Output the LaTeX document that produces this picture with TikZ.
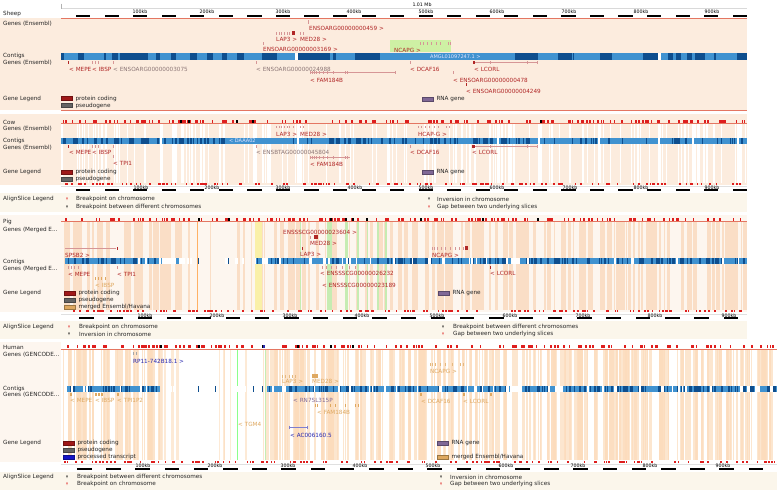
\documentclass[tikz,border=0pt]{standalone}
\usepackage{fontspec}
\setmainfont{DejaVu Sans}
\usetikzlibrary{positioning}

\definecolor{peach}{RGB}{252,236,222}
\definecolor{peachpale}{RGB}{253,246,239}
\definecolor{peachdeep}{RGB}{250,222,198}
\definecolor{humpeach}{RGB}{252,220,188}
\definecolor{legbg}{RGB}{251,246,235}
\definecolor{redline}{RGB}{228,118,98}
\definecolor{markred}{RGB}{222,30,30}
\definecolor{genered}{RGB}{176,38,38}
\definecolor{genegray}{RGB}{140,118,118}
\definecolor{havana}{RGB}{222,168,96}
\definecolor{ptblue}{RGB}{40,40,175}
\definecolor{rnapurple}{RGB}{128,104,150}
\definecolor{exonpink}{RGB}{214,150,150}
\definecolor{ctgdark}{RGB}{14,78,142}
\definecolor{ctglight}{RGB}{64,146,208}
\definecolor{ncapgreen}{RGB}{206,240,164}
\definecolor{alngreen}{RGB}{198,236,178}
\definecolor{alnyellow}{RGB}{250,240,168}
\definecolor{legcoding}{RGB}{160,24,24}
\definecolor{legpseudo}{RGB}{100,100,100}
\definecolor{legprocessed}{RGB}{20,20,200}

\begin{document}
\begin{tikzpicture}[
        x=1pt, y=-1pt,
        font=\fontsize{5.7}{6.2}\selectfont,
        every node/.style={inner sep=0pt, anchor=west},
        track_label/.style={text=black!85},
        gene_fwd/.style={text=genered},
        gene_grey/.style={text=genegray},
        gene_hav/.style={text=havana},
        gene_pt/.style={text=ptblue},
        contig_label/.style={text=white!90!blue, font=\fontsize{5}{5.5}\selectfont},
        kb_label/.style={anchor=center, font=\fontsize{4.7}{5}\selectfont},
        legend_text/.style={text=black!85},
        legend_box/.style={minimum width=11pt, minimum height=4pt, fill=#1, draw=#1!70!black, line width=0.3pt},
        exon/.style={fill=exonpink},
        edge_red/.style={draw=redline, line width=0.8pt},
        mark_red/.style={fill=markred},
        mark_black/.style={fill=black}
    ]
        \useasboundingbox (0,0) rectangle (778,490);
        \fill[white] (0,0) rectangle (778,490);
        \pgfmathsetseed{4242}

        % ================= Sheep =================
        \fill[peach] (0,18) rectangle (747,110);
        \draw[black!15] (61,8.5) -- (747,8.5);
        \draw[black!30] (61,3.5) -- (61,9);
        \node (sheep_span) [kb_label] at (422,5.2) {1.01 Mb};
        \foreach \kx/\kb in {140/100, 207/200, 283/300, 354/400, 426/500, 497/600, 569/700, 641/800, 712/900}
            \node (sheep_kb\kb) [kb_label] at (\kx,12.2) {\kb kb};
        \foreach \k in {0,...,23}
            \fill (76+28.55*\k,14.8) rectangle ++(14.2,2);
        \draw[edge_red] (61,18) -- (747,18);
        \draw[edge_red] (61,110) -- (747,110);

        \node (sheep_name) [track_label] at (3,14) {Sheep};
        \node (sheep_genes) [track_label] at (3,24) {Genes (Ensembl)};
        \node (sheep_contigs) [track_label] at (3,56) {Contigs};
        \node (sheep_genes_rev) [track_label] at (3,63) {Genes (Ensembl)};
        \node (sheep_legend) [track_label] at (3,99) {Gene Legend};

        % forward strand genes
        \fill[ncapgreen] (390,40) rectangle (451,52);
        \fill[exon] (308,20) rectangle ++(0.7,4);
        \node (s_ens459) [gene_fwd] at (309,28) {ENSOARG00000000459 >};
        \foreach \ex in {276,279,281,284,287,289,300,303}
            \fill[exon] (\ex,31.5) rectangle ++(1,3);
        \fill[genered] (292,31) rectangle ++(2.5,4);
        \node (s_lap3) [gene_fwd] at (276,39) {LAP3 >};
        \node (s_med28) [gene_fwd] at (300,39) {MED28 >};
        \fill[exon] (263,42) rectangle ++(0.7,3);
        \node (s_ens3169) [gene_fwd] at (263,49) {ENSOARG00000003169 >};
        \foreach \ex in {420,423,427,431,436,440,448,450}
            \fill[exon] (\ex,42) rectangle ++(0.8,3);
        \node (s_ncapg) [gene_fwd] at (394,50) {NCAPG >};

        % contigs
        \fill[ctglight] (61,53) rectangle (747,60);
        \foreach \ca/\cb in {61/64, 78/84, 104/106, 112/118, 120/148, 156/160, 171/176, 190/197, 207/213, 222/227, 237/244, 262/277, 298/330, 333/336, 355/380, 515/538, 558/572, 573/574, 600/612, 643/658, 668/673, 676/681, 687/692, 695/705, 714/716, 737/747}
            \fill[ctgdark] (\ca,53) rectangle (\cb,60);
        \fill[white] (295,53) rectangle (298,60);
        \fill[white] (658,53) rectangle (661,60);
        \node (s_amgl) [contig_label] at (430,56.5) {AMGL01097247.1 >};

        % reverse strand genes
        \fill[genered] (67.5,61) rectangle ++(1.5,3);
        \foreach \ex in {92,95,98,113,256,410,490,527,537}
            \fill[exon] (\ex,61) rectangle ++(0.7,3);
        \draw[exonpink, line width=0.3pt] (473,62.5) -- (537,62.5);
        \fill[genered] (472.5,61) rectangle ++(2,3);
        \node (s_mepe) [gene_fwd] at (69,69) {< MEPE};
        \node (s_ibsp) [gene_fwd] at (92,69) {< IBSP};
        \node (s_ens3075) [gene_grey] at (113,69) {< ENSOARG00000003075};
        \node (s_ens24988) [gene_grey] at (256,69) {< ENSOARG00000024988};
        \node (s_dcaf16) [gene_fwd] at (410,69) {< DCAF16};
        \node (s_lcorl) [gene_fwd] at (474,69) {< LCORL};
        \draw[exonpink, line width=0.3pt] (310,72.5) -- (395,72.5);
        \foreach \ex in {310,312,314,316,319,323,327,333,345,347,395,453}
            \fill[exon] (\ex,71) rectangle ++(0.8,3);
        \node (s_fam184b) [gene_fwd] at (310,80) {< FAM184B};
        \node (s_ens478) [gene_fwd] at (453,80) {< ENSOARG00000000478};
        \fill[genered] (466,83) rectangle ++(1.2,3);
        \node (s_ens4249) [gene_fwd] at (466,91) {< ENSOARG00000004249};

        % legend
        \node (s_pc_box) [legend_box=legcoding] at (61,98.5) {};
        \node (s_pc) [legend_text, right=3pt of s_pc_box] {protein coding};
        \node (s_ps_box) [legend_box=legpseudo] at (61,105.5) {};
        \node (s_ps) [legend_text, right=3pt of s_ps_box] {pseudogene};
        \node (s_rna_box) [legend_box=rnapurple] at (422,99) {};
        \node (s_rna) [legend_text, right=3pt of s_rna_box] {RNA gene};

        % ================= Cow =================
        \fill[peach] (0,114) rectangle (747,185);
        \foreach \i in {1,...,150}{
            \pgfmathsetmacro\sx{61+685*rnd}
            \pgfmathsetmacro\sw{0.4+1.4*rnd}
            \fill[white] (\sx,124) rectangle ++(\sw,59);
        }
        \foreach \gx in {160,297,497,538,598,658,692,737}
            \fill[white] (\gx,124) rectangle ++(3,59);
        \foreach \i in {1,...,150}{
            \pgfmathsetmacro\mx{61+684*rnd}
            \fill[mark_red] (\mx,119.5) rectangle ++(1.2+0.8*rnd,3);
            \pgfmathsetmacro\mx{61+684*rnd}
            \fill[mark_red] (\mx,182.5) rectangle ++(1.2+0.8*rnd,2.6);
        }
        \foreach \bx in {180,188,236,252,540}
            \fill[mark_black] (\bx,119.5) rectangle ++(1.6,3);
        \draw[edge_red, line width=0.5pt] (61,123) -- (747,123);
        \draw[black!12] (61,186.5) -- (747,186.5);
        \foreach \kx/\kb in {141/100, 212/200, 283/300, 355/400, 426/500, 497/600, 570/700, 641/800, 712/900}
            \node (cow_kb\kb) [kb_label] at (\kx,187.4) {\kb kb};
        \foreach \k in {0,...,23}
            \fill (76+28.55*\k,189.3) rectangle ++(14.2,2);

        \node (cow_name) [track_label] at (3,122) {Cow};
        \node (cow_genes) [track_label] at (3,129) {Genes (Ensembl)};
        \node (cow_contigs) [track_label] at (3,141) {Contigs};
        \node (cow_genes_rev) [track_label] at (3,148) {Genes (Ensembl)};
        \node (cow_legend) [track_label] at (3,172) {Gene Legend};

        % forward strand genes
        \foreach \ex in {276,279,281,284,287,289,293,300,303,418,421,425,429,434,438,446,449}
            \fill[exon] (\ex,125.5) rectangle ++(0.9,2.6);
        \node (c_lap3) [gene_fwd] at (276,134) {LAP3 >};
        \node (c_med28) [gene_fwd] at (300,134) {MED28 >};
        \node (c_hcapg) [gene_fwd] at (418,134) {HCAP-G >};

        % contigs
        \fill[ctglight] (61,137.5) rectangle (747,143.5);
        \foreach \i in {1,...,150}{
            \pgfmathsetmacro\cx{61+684*rnd}
            \fill[ctgdark] (\cx,137.5) rectangle ++(0.5+1.8*rnd,6);
        }
        \fill[ctglight] (227,137.5) rectangle (293,143.5);
        \foreach \gx in {160,297,497,538,598,658,692,737}
            \fill[white] (\gx,137.5) rectangle ++(2,6);
        \node (c_daaa) [contig_label] at (229,140.5) {< DAAA02};

        % reverse strand genes
        \fill[genered] (67.5,144.5) rectangle ++(1.5,3);
        \foreach \ex in {92,95,98,113,256,410,490,527,537}
            \fill[exon] (\ex,144.5) rectangle ++(0.7,3);
        \fill[exon] (113,155) rectangle ++(0.7,3);
        \draw[exonpink, line width=0.3pt] (473,146) -- (537,146);
        \fill[genered] (472,144.5) rectangle ++(2.5,3);
        \node (c_mepe) [gene_fwd] at (69,152.5) {< MEPE};
        \node (c_ibsp) [gene_fwd] at (92,152.5) {< IBSP};
        \node (c_tpi1) [gene_fwd] at (113,163) {< TPI1};
        \node (c_ens45804) [gene_grey] at (256,152.5) {< ENSBTAG00000045804};
        \node (c_dcaf16) [gene_fwd] at (410,152.5) {< DCAF16};
        \node (c_lcorl) [gene_fwd] at (472,152.5) {< LCORL};
        \draw[exonpink, line width=0.3pt] (310,157) -- (350,157);
        \foreach \ex in {310,312,314,316,319,323,327,333,345,347}
            \fill[exon] (\ex,155.5) rectangle ++(0.8,3);
        \node (c_fam184b) [gene_fwd] at (310,164) {< FAM184B};

        % legend
        \node (c_pc_box) [legend_box=legcoding] at (61,172) {};
        \node (c_pc) [legend_text, right=3pt of c_pc_box] {protein coding};
        \node (c_ps_box) [legend_box=legpseudo] at (61,179) {};
        \node (c_ps) [legend_text, right=3pt of c_ps_box] {pseudogene};
        \node (c_rna_box) [legend_box=rnapurple] at (422,172) {};
        \node (c_rna) [legend_text, right=3pt of c_rna_box] {RNA gene};

        % alignslice legend
        \fill[legbg] (0,193) rectangle (747,212);
        \node (cow_aln) [track_label] at (3,199) {AlignSlice Legend};
        \fill[mark_red] (66.2,197.5) -- (67.8,197.5) -- (67,200) -- cycle;
        \node (c_aln1) [legend_text] at (76,199) {Breakpoint on chromosome};
        \fill[mark_black] (66.2,205.5) -- (67.8,205.5) -- (67,208) -- cycle;
        \node (c_aln2) [legend_text] at (76,207) {Breakpoint between different chromosomes};
        \fill[mark_black] (428.2,197.5) -- (429.8,197.5) -- (429,200) -- cycle;
        \node (c_aln3) [legend_text] at (437,199) {Inversion in chromosome};
        \fill[mark_red] (428.2,205.5) -- (429.8,205.5) -- (429,208) -- cycle;
        \node (c_aln4) [legend_text] at (437,207) {Gap between two underlying slices};

        % ================= Pig =================
        \fill[peachpale] (0,215) rectangle (747,312);
        \foreach \i in {1,...,45}{
            \pgfmathsetmacro\sx{61+119*rnd}
            \fill[peachdeep] (\sx,222) rectangle ++(0.8+2.8*rnd,88);
        }
        \foreach \i in {1,...,6}{
            \pgfmathsetmacro\sx{180+75*rnd}
            \fill[peachdeep] (\sx,222) rectangle ++(0.8+1.5*rnd,88);
        }
        \foreach \i in {1,...,170}{
            \pgfmathsetmacro\sx{255+490*rnd}
            \fill[peachdeep] (\sx,222) rectangle ++(0.8+2.8*rnd,88);
        }
        \fill[alnyellow] (255,222) rectangle (262,310);
        \foreach \gx/\gw in {300/1.2, 327/5, 345/3, 357/1.5, 367/1.2, 377/1.5, 385/2}
            \fill[alngreen] (\gx,222) rectangle ++(\gw,88);
        \fill[orange!60] (197,222) rectangle ++(0.8,88);
        \foreach \i in {1,...,150}{
            \pgfmathsetmacro\mx{61+684*rnd}
            \fill[mark_red] (\mx,217.5) rectangle ++(1.2+0.8*rnd,3);
            \pgfmathsetmacro\mx{61+684*rnd}
            \fill[mark_red] (\mx,309.5) rectangle ++(1.2+0.8*rnd,2.6);
        }
        \foreach \bx in {198,228,330,345,352,366,420,482,537}
            \fill[mark_black] (\bx,217.5) rectangle ++(1.6,3);
        \draw[edge_red, line width=0.4pt] (61,221.5) -- (747,221.5);
        \draw[black!12] (61,314.5) -- (747,314.5);
        \foreach \kx/\kb in {145/100, 217/200, 290/300, 362/400, 437/500, 510/600, 583/700, 655/800, 729/900}
            \node (pig_kb\kb) [kb_label] at (\kx,315.6) {\kb kb};
        \foreach \k in {0,...,22}
            \fill (79+29.3*\k,317.3) rectangle ++(14.5,2);

        \node (pig_name) [track_label] at (3,222) {Pig};
        \node (pig_genes) [track_label] at (3,230) {Genes (Merged E...};
        \node (pig_contigs) [track_label] at (3,262) {Contigs};
        \node (pig_genes_rev) [track_label] at (3,269) {Genes (Merged E...};
        \node (pig_legend) [track_label] at (3,293) {Gene Legend};

        % forward strand genes
        \node (p_ens23604) [gene_fwd] at (283,232) {ENSSSCG00000023604 >};
        \fill[exon] (310,235.5) rectangle ++(0.8,3);
        \fill[genered] (314,235) rectangle ++(3.5,4);
        \node (p_med28) [gene_fwd] at (310,243) {MED28 >};
        \fill[genered] (301.5,246.5) rectangle ++(0.8,3);
        \node (p_lap3) [gene_fwd] at (300,254) {LAP3 >};
        \draw[exonpink, line width=0.3pt] (65,248) -- (116,248);
        \fill[genered] (116.5,246.5) rectangle ++(1,3);
        \node (p_spsb2) [gene_fwd] at (65,255) {SPSB2 >};
        \foreach \ex in {432,434,437,441,445,450,455,459,463}
            \fill[exon] (\ex,246.5) rectangle ++(0.9,3);
        \fill[genered] (465,246) rectangle ++(2.5,4);
        \node (p_ncapg) [gene_fwd] at (432,255) {NCAPG >};

        % contigs
        \fill[ctglight] (65,258) rectangle (180,264);
        \fill[ctglight] (255,258) rectangle (747,264);
        \foreach \cx in {198,228}
            \fill[ctgdark] (\cx,258) rectangle ++(1,6);
        \foreach \i in {1,...,35}{
            \pgfmathsetmacro\cx{65+115*rnd}
            \fill[ctgdark] (\cx,258) rectangle ++(0.6+1.4*rnd,6);
        }
        \foreach \i in {1,...,130}{
            \pgfmathsetmacro\cx{255+490*rnd}
            \fill[ctgdark] (\cx,258) rectangle ++(0.6+1.6*rnd,6);
        }
        \foreach \i in {1,...,45}{
            \pgfmathsetmacro\cx{65+680*rnd}
            \fill[white] (\cx,258) rectangle ++(0.8+2*rnd,6);
        }
        \fill[white] (162,258) rectangle (176,264);
        \fill[white] (262,258) rectangle (268,264);
        \fill[white] (514,258) rectangle (520,264);

        % reverse strand genes
        \foreach \ex in {68,71,74,78,117,322,326,331,336,342,349,355,490}
            \fill[exon] (\ex,265.5) rectangle ++(0.8,3);
        \fill[genered] (489.5,265.5) rectangle ++(1.2,3);
        \node (p_mepe) [gene_fwd] at (68,274) {< MEPE};
        \node (p_tpi1) [gene_fwd] at (117,274) {< TPI1};
        \node (p_ens26232) [gene_fwd] at (320,273) {< ENSSSCG00000026232};
        \node (p_lcorl) [gene_fwd] at (490,273) {< LCORL};
        \foreach \ex in {95,98,101,105}
            \fill[havana] (\ex,277) rectangle ++(0.9,3);
        \node (p_ibsp) [gene_hav] at (95,285) {< IBSP};
        \node (p_ens23189) [gene_fwd] at (322,285) {< ENSSSCG00000023189};

        % legend
        \node (p_pc_box) [legend_box=legcoding] at (64,293) {};
        \node (p_pc) [legend_text, right=3pt of p_pc_box] {protein coding};
        \node (p_ps_box) [legend_box=legpseudo] at (64,300) {};
        \node (p_ps) [legend_text, right=3pt of p_ps_box] {pseudogene};
        \node (p_mg_box) [legend_box=havana] at (64,307) {};
        \node (p_mg) [legend_text, right=3pt of p_mg_box] {merged Ensembl/Havana};
        \node (p_rna_box) [legend_box=rnapurple] at (438,293) {};
        \node (p_rna) [legend_text, right=3pt of p_rna_box] {RNA gene};

        % alignslice legend
        \fill[legbg] (0,321) rectangle (747,339);
        \node (pig_aln) [track_label] at (3,327) {AlignSlice Legend};
        \fill[mark_red] (68.2,325.5) -- (69.8,325.5) -- (69,328) -- cycle;
        \node (p_aln1) [legend_text] at (79,327) {Breakpoint on chromosome};
        \fill[mark_black] (68.2,332.5) -- (69.8,332.5) -- (69,335) -- cycle;
        \node (p_aln2) [legend_text] at (79,334) {Inversion in chromosome};
        \fill[mark_black] (442.2,325.5) -- (443.8,325.5) -- (443,328) -- cycle;
        \node (p_aln3) [legend_text] at (453,327) {Breakpoint between different chromosomes};
        \fill[mark_red] (442.2,332.5) -- (443.8,332.5) -- (443,335) -- cycle;
        \node (p_aln4) [legend_text] at (453,334) {Gap between two underlying slices};

        % ================= Human =================
        \fill[peachpale] (0,342) rectangle (61,462);
        \foreach \i in {1,...,50}{
            \pgfmathsetmacro\sx{61+99*rnd}
            \fill[humpeach, opacity=0.75] (\sx,350) rectangle ++(0.8+2.6*rnd,110);
        }
        \foreach \i in {1,...,12}{
            \pgfmathsetmacro\sx{160+100*rnd}
            \fill[humpeach, opacity=0.6] (\sx,350) rectangle ++(0.8+1.6*rnd,110);
        }
        \foreach \i in {1,...,260}{
            \pgfmathsetmacro\sx{260+515*rnd}
            \fill[humpeach, opacity=0.7] (\sx,350) rectangle ++(0.8+2.8*rnd,110);
        }
        \fill[green!45!white] (237,350) rectangle ++(1,110);
        \fill[alngreen] (265,350) rectangle ++(1,110);
        \foreach \i in {1,...,160}{
            \pgfmathsetmacro\mx{61+714*rnd}
            \fill[mark_red] (\mx,345) rectangle ++(1.2+0.8*rnd,3);
            \pgfmathsetmacro\mx{61+714*rnd}
            \fill[mark_red] (\mx,460.5) rectangle ++(1.2+0.8*rnd,2.6);
        }
        \foreach \bx in {160,198,262,297,330,352}
            \fill[mark_black] (\bx,345) rectangle ++(1.6,3);
        \fill[ptblue] (263,345) rectangle ++(1.6,3);
        \draw[edge_red, line width=0.4pt] (61,349) -- (777,349);
        \draw[black!12] (61,464.5) -- (777,464.5);
        \foreach \kx/\kb in {143/100, 215/200, 288/300, 360/400, 433/500, 506/600, 578/700, 650/800, 723/900}
            \node (human_kb\kb) [kb_label] at (\kx,465.8) {\kb kb};
        \foreach \k in {0,...,23}
            \fill (77+29.2*\k,467.5) rectangle ++(14.5,2);

        \node (human_name) [track_label] at (3,347) {Human};
        \node (human_genes) [track_label] at (3,355) {Genes (GENCODE...};
        \node (human_contigs) [track_label] at (3,389) {Contigs};
        \node (human_genes_rev) [track_label] at (3,395) {Genes (GENCODE...};
        \node (human_legend) [track_label] at (3,443) {Gene Legend};

        % forward strand genes
        \foreach \ex in {133,136}
            \fill[black!35] (\ex,352) rectangle ++(0.7,3);
        \node (h_rp11) [gene_pt] at (133,361) {RP11-742B18.1 >};
        \foreach \ex in {282,285,289,292,295}
            \fill[havana!80] (\ex,374.5) rectangle ++(1,3);
        \fill[havana] (312,374) rectangle ++(6,4);
        \node (h_lap3) [gene_hav] at (282,381) {LAP3 >};
        \node (h_med28) [gene_hav] at (312,381) {MED28 >};
        \foreach \ex in {430,432,435,440,445,452,460,463}
            \fill[havana!80] (\ex,362.5) rectangle ++(0.9,3);
        \node (h_ncapg) [gene_hav] at (430,371) {NCAPG >};

        % contigs
        \fill[ctglight] (67,386) rectangle (160,392);
        \fill[ctglight] (267,386) rectangle (777,392);
        \foreach \cx in {198,215,237,253,258,262}
            \fill[ctgdark] (\cx,386) rectangle ++(0.9,6);
        \foreach \i in {1,...,30}{
            \pgfmathsetmacro\cx{67+93*rnd}
            \fill[ctgdark] (\cx,386) rectangle ++(0.6+1.4*rnd,6);
        }
        \foreach \i in {1,...,150}{
            \pgfmathsetmacro\cx{267+508*rnd}
            \fill[ctgdark] (\cx,386) rectangle ++(0.6+1.6*rnd,6);
        }
        \foreach \i in {1,...,50}{
            \pgfmathsetmacro\cx{67+708*rnd}
            \fill[white] (\cx,386) rectangle ++(0.8+2*rnd,6);
        }
        \fill[white] (510,386) rectangle (522,392);
        \fill[white] (555,386) rectangle (563,392);

        % reverse strand genes
        \foreach \ex in {70,95,98,101,117,420,463,490}
            \fill[havana] (\ex,392.5) rectangle ++(1.6,3);
        \node (h_mepe) [gene_hav] at (70,400) {< MEPE};
        \node (h_ibsp) [gene_hav] at (95,400) {< IBSP};
        \node (h_tpi1p2) [gene_hav] at (117,400) {< TPI1P2};
        \node (h_rn7sl) [text=rnapurple] at (293,400) {< RN7SL315P};
        \node (h_dcaf16) [gene_hav] at (421,401) {< DCAF16};
        \node (h_lcorl) [gene_hav] at (463,401) {< LCORL};
        \foreach \ex in {315,317,330,335,345,355,358}
            \fill[havana] (\ex,403.5) rectangle ++(1,3);
        \node (h_fam184b) [gene_hav] at (317,412) {< FAM184B};
        \node (h_tgm4) [gene_hav] at (238,424) {< TGM4};
        \draw[ptblue!60, line width=0.3pt] (289,427) -- (307,427);
        \draw[ptblue!60, line width=0.3pt] (289,425.5) -- (289,428.5) (307,425.5) -- (307,428.5);
        \node (h_ac006) [gene_pt] at (290,435) {< AC006160.5};

        % legend
        \node (h_pc_box) [legend_box=legcoding] at (63,443) {};
        \node (h_pc) [legend_text, right=3pt of h_pc_box] {protein coding};
        \node (h_ps_box) [legend_box=legpseudo] at (63,450) {};
        \node (h_ps) [legend_text, right=3pt of h_ps_box] {pseudogene};
        \node (h_pt_box) [legend_box=legprocessed] at (63,457) {};
        \node (h_pt) [legend_text, right=3pt of h_pt_box] {processed transcript};
        \node (h_rna_box) [legend_box=rnapurple] at (437,443) {};
        \node (h_rna) [legend_text, right=3pt of h_rna_box] {RNA gene};
        \node (h_mg_box) [legend_box=havana] at (437,457) {};
        \node (h_mg) [legend_text, right=3pt of h_mg_box] {merged Ensembl/Havana};

        % alignslice legend
        \fill[legbg] (0,472) rectangle (777,490);
        \node (human_aln) [track_label] at (3,477) {AlignSlice Legend};
        \fill[mark_black] (66.2,475.5) -- (67.8,475.5) -- (67,478) -- cycle;
        \node (h_aln1) [legend_text] at (77,477) {Breakpoint between different chromosomes};
        \fill[mark_red] (66.2,482.5) -- (67.8,482.5) -- (67,485) -- cycle;
        \node (h_aln2) [legend_text] at (77,484) {Breakpoint on chromosome};
        \fill[mark_black] (440.2,475.5) -- (441.8,475.5) -- (441,478) -- cycle;
        \node (h_aln3) [legend_text] at (450,477) {Inversion in chromosome};
        \fill[mark_red] (440.2,482.5) -- (441.8,482.5) -- (441,485) -- cycle;
        \node (h_aln4) [legend_text] at (450,484) {Gap between two underlying slices};
    \end{tikzpicture}
\end{document}
